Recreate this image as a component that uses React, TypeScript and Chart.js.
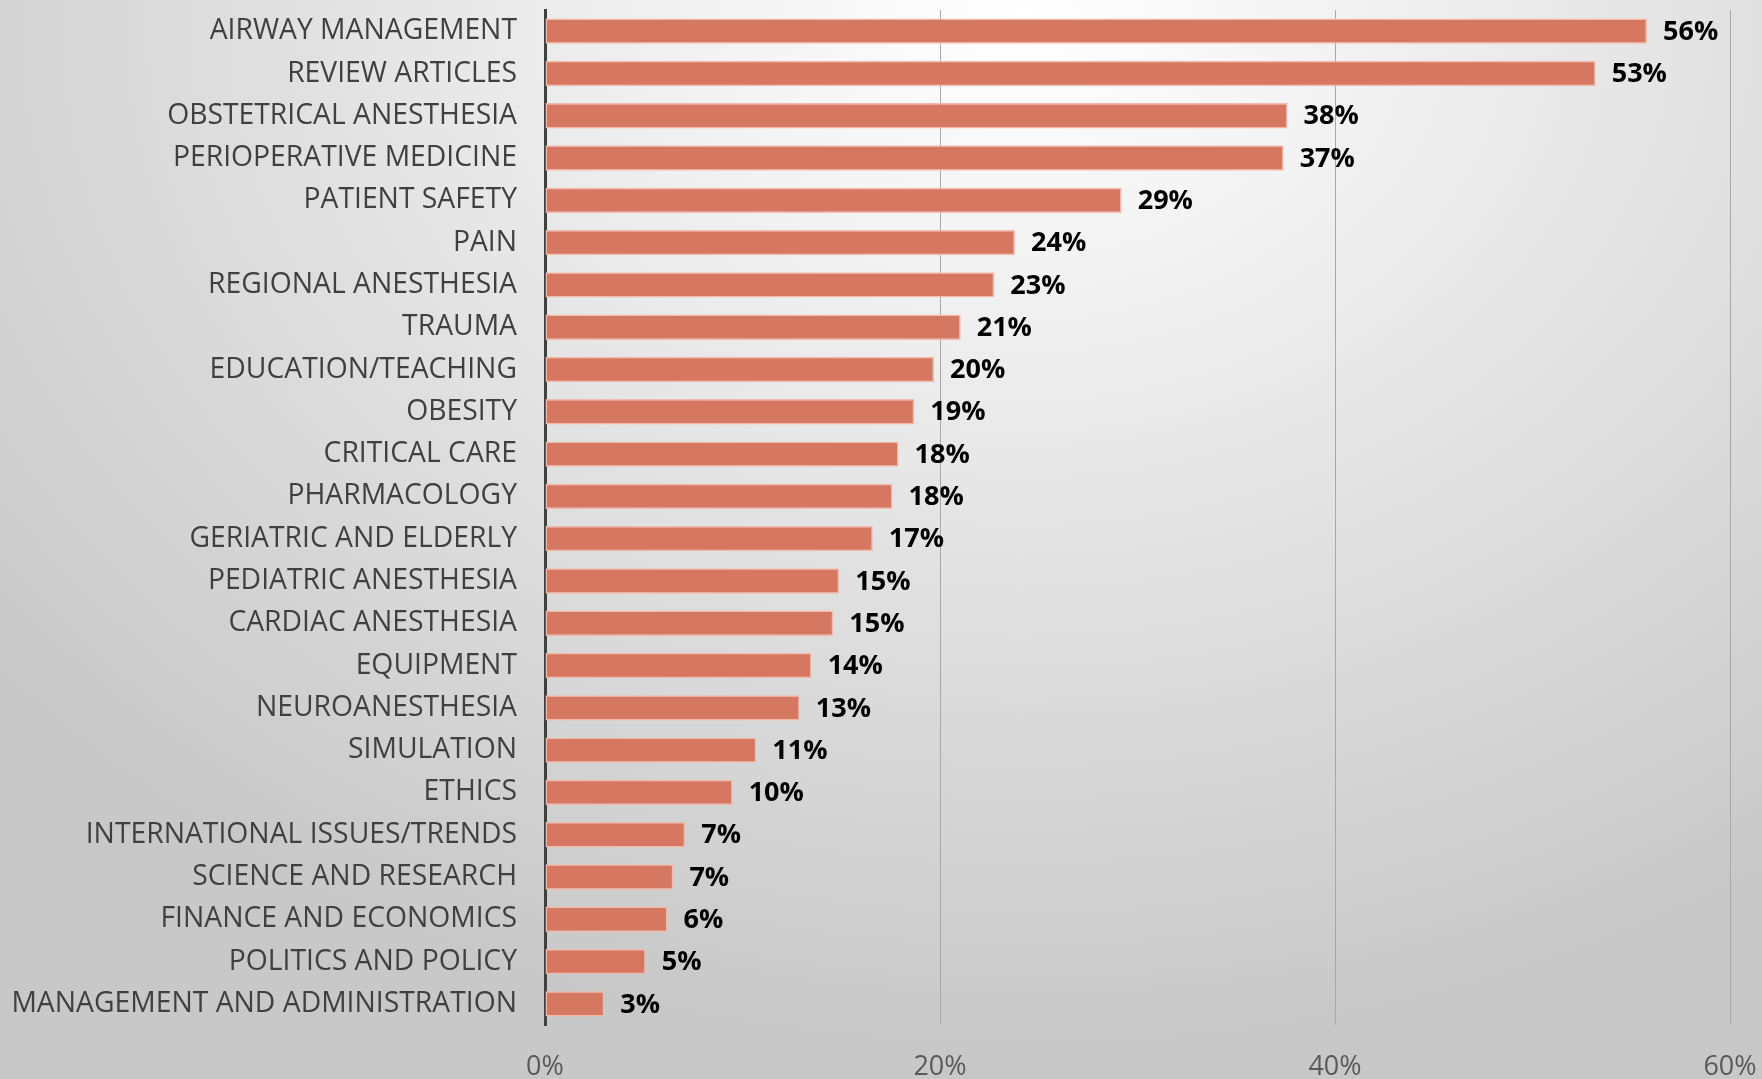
import React, { useEffect, useRef } from "react";
import { Chart, registerables } from "chart.js";

Chart.register(...registerables);

const categories: string[] = [
  "AIRWAY MANAGEMENT",
  "REVIEW ARTICLES",
  "OBSTETRICAL ANESTHESIA",
  "PERIOPERATIVE MEDICINE",
  "PATIENT SAFETY",
  "PAIN",
  "REGIONAL ANESTHESIA",
  "TRAUMA",
  "EDUCATION/TEACHING",
  "OBESITY",
  "CRITICAL CARE",
  "PHARMACOLOGY",
  "GERIATRIC AND ELDERLY",
  "PEDIATRIC ANESTHESIA",
  "CARDIAC ANESTHESIA",
  "EQUIPMENT",
  "NEUROANESTHESIA",
  "SIMULATION",
  "ETHICS",
  "INTERNATIONAL ISSUES/TRENDS",
  "SCIENCE AND RESEARCH",
  "FINANCE AND ECONOMICS",
  "POLITICS AND POLICY",
  "MANAGEMENT AND ADMINISTRATION",
];

const values: number[] = [
  55.8, 53.2, 37.6, 37.4, 29.2, 23.8, 22.75, 21.05, 19.7, 18.7, 17.9, 17.6,
  16.6, 14.9, 14.6, 13.5, 12.9, 10.7, 9.5, 7.1, 6.5, 6.2, 5.1, 3.0,
];

const xTicks: number[] = [0, 20, 40, 60];

const W = 1762;
const H = 1079;

const dataLabelPlugin = {
  id: "dataLabels",
  afterDatasetsDraw(chart: any) {
    const ctx = chart.ctx;
    const meta = chart.getDatasetMeta(0);
    ctx.save();
    ctx.font = "bold 27px 'Open Sans'";
    ctx.fillStyle = "#000000";
    ctx.textAlign = "left";
    ctx.textBaseline = "middle";
    meta.data.forEach((el: any, i: number) => {
      const v = chart.data.datasets[0].data[i] as number;
      ctx.fillText(Math.round(v) + "%", el.x + 16, el.y + 1);
    });
    ctx.restore();
  },
};

export default function App() {
  const ref = useRef<HTMLCanvasElement | null>(null);

  useEffect(() => {
    if (!ref.current) return;
    const chart = new Chart(ref.current, {
      type: "bar",
      data: {
        labels: categories,
        datasets: [
          {
            data: values,
            backgroundColor: "rgb(214,119,98)",
            borderColor: "rgba(243,186,170,1)",
            borderWidth: 1.5,
            borderSkipped: false,
            barPercentage: 0.6,
            categoryPercentage: 1,
          },
        ],
      },
      options: {
        indexAxis: "y",
        responsive: false,
        animation: false,
        layout: { padding: { top: 10, right: 32, left: 0, bottom: 0 } },
        plugins: {
          legend: { display: false },
          tooltip: { enabled: false },
        },
        scales: {
          x: {
            min: 0,
            max: 60,
            afterBuildTicks(scale: any) {
              scale.ticks = xTicks.map((v) => ({ value: v }));
            },
            grid: {
              color: "#a8a8a8",
              lineWidth: 1,
              drawTicks: false,
            },
            border: { display: false },
            ticks: {
              padding: 26,
              color: "#595959",
              font: { family: "'Open Sans'", size: 27 },
              callback: (v: any) => v + "%",
            },
            afterFit(scale: any) {
              scale.height = 54;
              scale.paddingLeft = 0;
              scale.paddingRight = 0;
              scale.paddingTop = 0;
              scale.paddingBottom = 0;
            },
          },
          y: {
            grid: { display: false, drawTicks: false },
            border: { display: true, color: "#404040", width: 3 },
            ticks: {
              padding: 28,
              color: "#404040",
              font: { family: "'Open Sans'", size: 28.3 },
              autoSkip: false,
            },
            afterFit(scale: any) {
              scale.width = 545;
              scale.paddingLeft = 0;
              scale.paddingRight = 0;
              scale.paddingTop = 0;
              scale.paddingBottom = 0;
            },
          },
        },
      },
      plugins: [dataLabelPlugin],
    });
    return () => chart.destroy();
  }, []);

  return (
    <div
      style={{
        position: "fixed",
        left: 0,
        top: 0,
        width: W,
        height: H,
        background:
          "radial-gradient(ellipse 75% 95% at 58% 2%, #ffffff 0%, #f2f2f2 25%, #dedede 60%, #c8c8c8 100%)",
      }}
    >
      <canvas ref={ref} width={W} height={H} style={{ display: "block" }} />
    </div>
  );
}
